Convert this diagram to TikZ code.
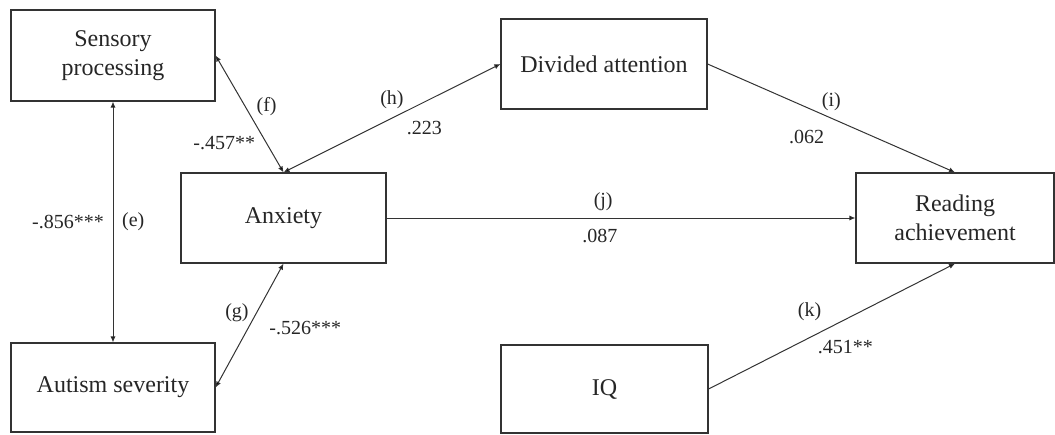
\documentclass[tikz,border=0pt]{standalone}
\usepackage{fontspec}
\setmainfont{Liberation Serif}
\usetikzlibrary{arrows.meta}

\begin{document}
\begin{tikzpicture}[x=0.5pt,y=-0.5pt,
  var/.style={draw=black!80,line width=0.6pt,align=center,inner sep=0pt,
    font=\fontsize{12}{14.5}\selectfont,text=black!85,minimum height=45pt},
  coef/.style={font=\fontsize{10}{12}\selectfont,text=black!85},
  >={Latex[length=3pt,width=2.6pt]}]
  \useasboundingbox (0,0) rectangle (1055,434);
  \node[var,minimum width=102pt,minimum height=45.5pt] (sens) at (113,55.5) {Sensory\\processing};
  \node[var,minimum width=102pt,minimum height=44.5pt] (aut) at (113,387.5) {Autism severity};
  \node[var,minimum width=102.5pt] (anx) at (283.5,218) {Anxiety};
  \node[var,minimum width=103pt] (div) at (604,64) {Divided attention};
  \node[var,minimum width=99pt] (read) at (955,218) {Reading\\achievement};
  \node[var,minimum width=103.5pt,minimum height=44pt] (iq) at (604.5,389) {IQ};
  \path[draw=black!80,line width=0.5pt]
    (sens.south) edge [<->] node [coef,left=1pt] {-.856***} node [coef,right=1pt] {(e)} (aut.north)
    (sens.east) edge [<->] node [coef,pos=.44,right=2pt] {(f)} node [coef,pos=.745,left=2pt] {-.457**} (anx.north)
    (anx.north) edge [<->] node [coef,pos=.5,above=1pt] {(h)} node [coef,pos=.65,below=6pt] {.223} (div.west)
    (anx.south) edge [<->] node [coef,pos=.394,left=0.5pt] {(g)} node [coef,pos=.52,right=7pt] {-.526***} (aut.east)
    (anx) edge [->] node [coef,pos=.462,above=0pt] {(j)} node [coef,pos=.455,below=2pt] {.087} (read)
    (div.east) edge [->] node [coef,pos=.5,above=0pt] {(i)} node [coef,pos=.4,below=8pt] {.062} (read.north)
    (iq.east) edge [->] node [coef,pos=.41,above=5pt] {(k)} node [coef,pos=.555,below=7pt] {.451**} (read.south);
\end{tikzpicture}
\end{document}
